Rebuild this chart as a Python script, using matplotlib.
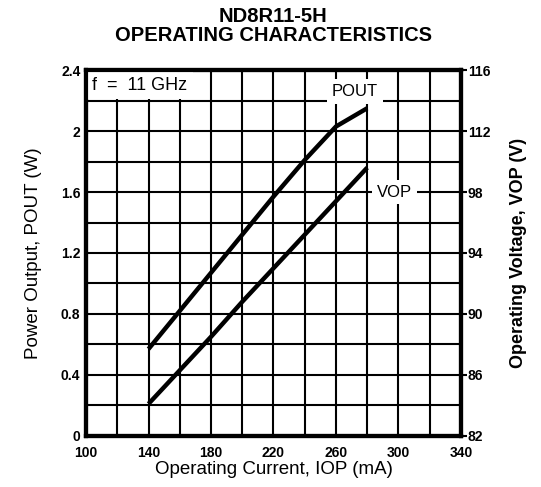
import matplotlib
matplotlib.use("Agg")
import matplotlib.pyplot as plt
import numpy as np

plt.rcParams['font.family'] = ['Liberation Sans', 'DejaVu Sans']

# operating current (mA)
current = [140, 160, 180, 200, 220, 240, 260, 280]
# power output (W)
pout = [0.57, 0.82, 1.07, 1.32, 1.57, 1.81, 2.03, 2.15]
# operating voltage (V)
vop = [84.1, 86.3, 88.5, 90.8, 93.0, 95.2, 97.4, 99.6]

x_ticks = [100, 140, 180, 220, 260, 300, 340]
left_ticks = [0, 0.4, 0.8, 1.2, 1.6, 2.0, 2.4]
left_labels = ["0", "0.4", "0.8", "1.2", "1.6", "2", "2.4"]
right_ticks = [82, 86, 90, 94, 98, 102, 106]
right_labels = ["82", "86", "90", "94", "98", "112", "116"]  # as printed

fig = plt.figure(figsize=(5.41, 4.87), dpi=100)
ax = fig.add_axes([0.159, 0.105, 0.693, 0.751])

ax.set_xlim(100, 340)
ax.set_ylim(0, 2.4)
ax.set_xticks(x_ticks)
ax.set_yticks(left_ticks)
ax.set_yticklabels(left_labels)
ax.set_xticks(np.arange(100, 341, 20), minor=True)
ax.set_yticks(np.arange(0, 2.41, 0.2), minor=True)
ax.grid(True, which='both', color='black', lw=1.5)
ax.tick_params(which='both', length=0, labelsize=10, pad=4)
ax.tick_params(axis='x', pad=7)
for lab in ax.get_xticklabels() + ax.get_yticklabels():
    lab.set_fontweight('bold')

for s in ax.spines.values():
    s.set_linewidth(3)

ax2 = ax.twinx()
ax2.set_ylim(82, 106)
ax2.set_yticks(right_ticks)
ax2.set_yticklabels(right_labels, fontweight='bold')
ax2.tick_params(length=4, width=1.5, labelsize=10, pad=1)
for s in ax2.spines.values():
    s.set_linewidth(3)

ax.plot(current, pout, color='black', lw=3.2, solid_capstyle='butt', zorder=5)
ax2.plot(current, vop, color='black', lw=3.2, solid_capstyle='butt', zorder=5)

# annotation boxes
ax.text(104, 2.3, "f  =  11 GHz", fontsize=13, va='center', ha='left', zorder=6,
        bbox=dict(facecolor='white', edgecolor='none', pad=4))
ax.text(272, 2.26, "POUT", fontsize=12, va='center', ha='center', zorder=6,
        bbox=dict(facecolor='white', edgecolor='none', pad=3.5))
ax.text(286, 1.6, "VOP", fontsize=12, va='center', ha='left', zorder=6,
        bbox=dict(facecolor='white', edgecolor='none', pad=3.5))

ax.set_xlabel("Operating Current, IOP (mA)", fontsize=13.5, labelpad=1)
ax.set_ylabel("Power Output, POUT (W)", fontsize=13.5, labelpad=14)
ax2.set_ylabel("Operating Voltage, VOP (V)", fontsize=13, fontweight='bold', labelpad=14)

fig.text(0.505, 0.985, "ND8R11-5H\nOPERATING CHARACTERISTICS", ha='center', va='top',
         fontsize=14.5, fontweight='bold', linespacing=1.0)

fig.savefig("out.png", dpi=100)
